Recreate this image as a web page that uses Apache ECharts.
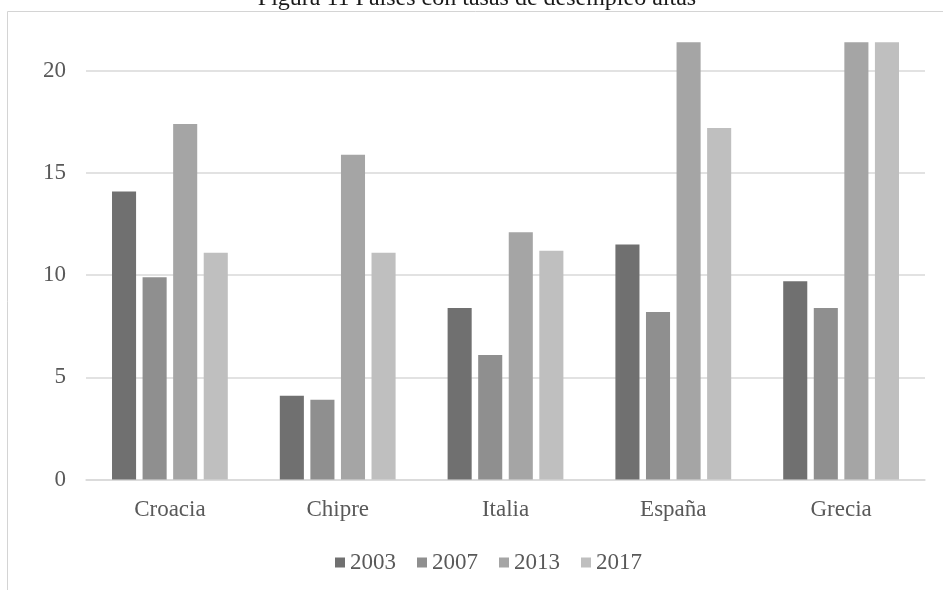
<!DOCTYPE html>
<html>
<head>
<meta charset="utf-8">
<script src="https://cdn.jsdelivr.net/npm/echarts@6/dist/echarts.min.js"></script>
<style>html,body{margin:0;padding:0;background:#fff;}#c{width:943px;height:590px;}</style>
</head>
<body>
<div id="c"></div>
<script>
const titleText = 'Figura 11 Países con tasas de desempleo altas';
const categories = ['Croacia', 'Chipre', 'Italia', 'España', 'Grecia'];
const seriesNames = ['2003', '2007', '2013', '2017'];
const v2003 = [14.1, 4.1, 8.4, 11.5, 9.7];
const v2007 = [9.9, 3.9, 6.1, 8.2, 8.4];
const v2013 = [17.4, 15.9, 12.1, 26.1, 27.5];
const v2017 = [11.1, 11.1, 11.2, 17.2, 21.5];
const yTicks = [0, 5, 10, 15, 20];
const colors = ['#707070', '#8f8f8f', '#a5a5a5', '#bfbfbf'];
const values = [v2003, v2007, v2013, v2017];

const font = '"Liberation Serif", "Times New Roman", serif';
const chart = echarts.init(document.getElementById('c'), null, {renderer: 'canvas'});
chart.setOption({
  animation: false,
  backgroundColor: '#ffffff',
  graphic: [
    {type: 'rect', shape: {x: 7.5, y: 11.5, width: 1000, height: 1000},
     style: {fill: 'none', stroke: '#d4d4d4', lineWidth: 1}, z: 0},
    {type: 'text', x: 477, y: -1.5,
     style: {text: titleText, font: '24px ' + font, fill: '#1a1a1a', align: 'center', verticalAlign: 'middle'}, z: 10}
  ],
  grid: {left: 86, right: 18, top: 42.3, bottom: 110.5, containLabel: false},
  legend: {
    data: seriesNames,
    left: 330, top: 546,
    itemWidth: 10, itemHeight: 10, itemGap: 21,
    icon: 'rect',
    textStyle: {fontFamily: font, fontSize: 23, color: '#595959'}
  },
  xAxis: {
    type: 'category',
    data: categories,
    axisLine: {show: true, lineStyle: {color: '#d9d9d9', width: 1.5}},
    axisTick: {show: false},
    axisLabel: {fontFamily: font, fontSize: 23, color: '#595959', margin: 19}
  },
  yAxis: {
    type: 'value',
    min: 0, max: 21.4, interval: 5,
    axisLine: {show: false},
    axisTick: {show: false},
    axisLabel: {fontFamily: font, fontSize: 23, color: '#595959', margin: 20, showMaxLabel: false,
      formatter: function (v) { return yTicks.indexOf(v) >= 0 ? String(v) : ''; }},
    splitLine: {show: true, showMaxLine: false, lineStyle: {color: '#d9d9d9', width: 1.5}}
  },
  series: seriesNames.map((n, i) => ({
    name: n,
    type: 'bar',
    data: values[i],
    barGap: '27%',
    barCategoryGap: '31%',
    clip: true,
    itemStyle: {color: colors[i]}
  }))
});
</script>
</body>
</html>
